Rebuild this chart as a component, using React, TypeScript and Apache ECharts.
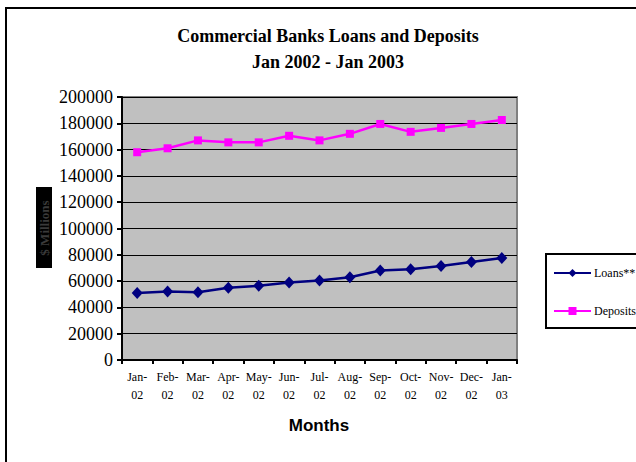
import React, { useEffect, useRef } from "react";
import * as echarts from "echarts";

const categories = [
  "Jan-\n02", "Feb-\n02", "Mar-\n02", "Apr-\n02", "May-\n02", "Jun-\n02", "Jul-\n02",
  "Aug-\n02", "Sep-\n02", "Oct-\n02", "Nov-\n02", "Dec-\n02", "Jan-\n03",
];
const loans = [51000, 52000, 51500, 55000, 56500, 59000, 60500, 63000, 68000, 69000, 71500, 74500, 77500];
const deposits = [158000, 161000, 167000, 165500, 165500, 170500, 167000, 172000, 179500, 173500, 176500, 179500, 182500];
const titleLines = ["Commercial Banks Loans and Deposits", "Jan 2002 - Jan 2003"];
const yAxisTitle = "$ Millions";
const xAxisTitle = "Months";

const SERIF = "'Liberation Serif', 'Times New Roman', serif";
const SANS = "'Liberation Sans', Arial, sans-serif";

export default function App() {
  const ref = useRef<HTMLDivElement>(null);
  useEffect(() => {
    if (!ref.current) return;
    const chart = echarts.init(ref.current, undefined, { renderer: "svg" });
    chart.setOption({
      animation: false,
      backgroundColor: "#ffffff",
      title: {
        text: titleLines.join("\n"),
        left: 323,
        textAlign: "center",
        top: 18,
        textStyle: {
          fontFamily: SERIF,
          fontWeight: "bold",
          fontSize: 18,
          lineHeight: 26,
          color: "#000",
        },
      },
      grid: {
        left: 122,
        right: 119,
        top: 97,
        bottom: 102,
        show: true,
        backgroundColor: "#c0c0c0",
        borderColor: "#808080",
        borderWidth: 2,
      },
      legend: {
        orient: "vertical",
        left: 553,
        top: 267,
        itemWidth: 37,
        itemHeight: 10,
        itemGap: 26,
        padding: 0,
        textStyle: { fontFamily: SERIF, fontSize: 12, color: "#000", padding: [0, 0, 0, -2] },
        data: ["Loans**", "Deposits"],
      },
      xAxis: {
        type: "category",
        data: categories,
        boundaryGap: true,
        axisLine: { lineStyle: { color: "#000", width: 2 } },
        axisTick: { show: true, length: 4, lineStyle: { color: "#000", width: 2 } },
        axisLabel: {
          fontFamily: SERIF,
          fontSize: 12,
          lineHeight: 18,
          color: "#000",
          margin: 8,
          interval: 0,
        },
        splitLine: { show: false },
      },
      yAxis: {
        type: "value",
        min: 0,
        max: 200000,
        interval: 20000,
        axisLine: { show: true, lineStyle: { color: "#000", width: 2 } },
        axisTick: { show: true, length: 5, lineStyle: { color: "#000", width: 2 } },
        axisLabel: {
          fontFamily: SERIF,
          fontSize: 18,
          color: "#000",
          margin: 9,
          formatter: (v: number) => String(v),
        },
        splitLine: { show: true, lineStyle: { color: "#000", width: 1 } },
      },
      series: [
        {
          name: "Loans**",
          type: "line",
          data: loans,
          symbol: "diamond",
          symbolSize: [11, 12],
          lineStyle: { color: "#000080", width: 2.5 },
          itemStyle: { color: "#000080" },
        },
        {
          name: "Deposits",
          type: "line",
          data: deposits,
          symbol: "rect",
          symbolSize: 8,
          lineStyle: { color: "#ff00ff", width: 2.5 },
          itemStyle: { color: "#ff00ff" },
        },
      ],
      graphic: [
        {
          type: "rect",
          shape: { x: 6, y: 8, width: 700, height: 500 },
          style: { fill: "none", stroke: "#000", lineWidth: 2 },
          silent: true,
        },
        {
          type: "rect",
          shape: { x: 546, y: 254, width: 120, height: 74 },
          style: { fill: "none", stroke: "#000", lineWidth: 2 },
          silent: true,
        },
        {
          type: "rect",
          shape: { x: 36, y: 187, width: 16, height: 81 },
          style: { fill: "#000" },
          silent: true,
        },
        {
          type: "text",
          x: 44,
          y: 228,
          rotation: Math.PI / 2,
          style: {
            text: yAxisTitle,
            fontFamily: SERIF,
            fontSize: 13,
            fontWeight: "bold",
            fill: "#3a3a3a",
            align: "center",
            verticalAlign: "middle",
          },
          silent: true,
        },
        {
          type: "text",
          x: 319,
          y: 425,
          style: {
            text: xAxisTitle,
            fontFamily: SANS,
            fontSize: 17,
            fontWeight: "bold",
            fill: "#000",
            align: "center",
            verticalAlign: "middle",
          },
          silent: true,
        },
      ],
    });
    return () => chart.dispose();
  }, []);
  return (
    <div
      ref={ref}
      style={{ position: "fixed", left: 0, top: 0, width: 636, height: 462 }}
    />
  );
}
